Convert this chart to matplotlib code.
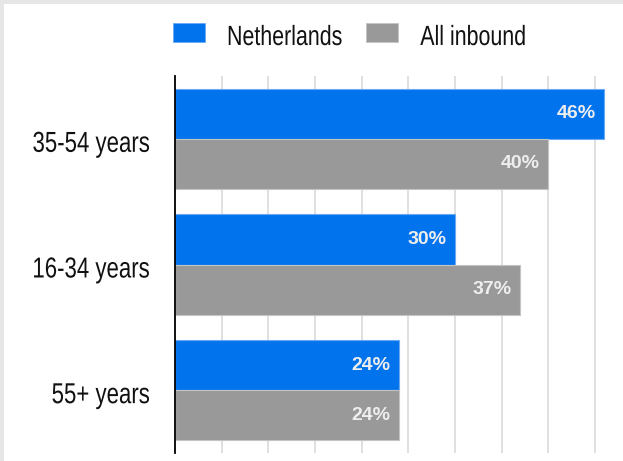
import matplotlib
matplotlib.use("Agg")
import matplotlib.pyplot as plt
from matplotlib.patches import Rectangle, Patch
from matplotlib.patheffects import AbstractPathEffect
from matplotlib.transforms import Affine2D, ScaledTranslation
from matplotlib.legend_handler import HandlerPatch

categories = ["35-54 years", "16-34 years", "55+ years"]
netherlands = [46, 30, 24]
all_inbound = [40, 37, 24]
series_names = ["Netherlands", "All inbound"]

BLUE = "#0073ed"
GRAY = "#999999"
FAMILY = ["Liberation Sans", "DejaVu Sans"]


class VStretch(AbstractPathEffect):
    """Stretch glyphs vertically from the baseline (text stays real text)."""
    def __init__(self, sy):
        super().__init__()
        self.sy = sy

    def draw_path(self, renderer, gc, tpath, affine, rgbFace=None):
        renderer.draw_path(gc, tpath, Affine2D().scale(1, self.sy) + affine, rgbFace)


STRETCH = [VStretch(1.3)]

W, H = 623, 461
fig = plt.figure(figsize=(W / 100, H / 100), dpi=100)
fig.patch.set_facecolor("white")

# light frame bands (top and left)
fig.patches.append(Rectangle((0, 1 - 4 / H), 1, 4 / H, transform=fig.transFigure,
                             facecolor="#e6e6e6", edgecolor="none", zorder=0))
fig.patches.append(Rectangle((0, 0), 3.5 / W, 1, transform=fig.transFigure,
                             facecolor="#e6e6e6", edgecolor="none", zorder=0))

left, right = 175 / W, 607 / W
bottom, top = 1 - 453 / H, 1 - 76 / H
ax = fig.add_axes([left, bottom, right - left, top - bottom])
ax.set_facecolor("white")

ys = list(range(len(categories)))
h = 0.4
b1 = ax.barh([y - h / 2 for y in ys], netherlands, height=h, color=BLUE,
             edgecolor="#6aaaf5", linewidth=0.8, zorder=3)
b2 = ax.barh([y + h / 2 for y in ys], all_inbound, height=h, color=GRAY,
             edgecolor="#c4c4c4", linewidth=0.8, zorder=3)

for bars, vals in ((b1, netherlands), (b2, all_inbound)):
    for bar, v in zip(bars, vals):
        ax.annotate(f"{v}%", xy=(v, bar.get_y() + bar.get_height() / 2),
                    xytext=(-6, 0), textcoords="offset points",
                    ha="right", va="center", color="#eeeeee",
                    fontsize=14, fontweight="bold", family=FAMILY,
                    zorder=4)

ax.set_xlim(0, 46.3)
ax.set_ylim(len(categories) - 0.5, -0.5)
ax.set_xticks(range(0, 50, 5))
ax.set_xticklabels([])
ax.tick_params(axis="x", length=0)
ax.grid(axis="x", color="#dddddd", linewidth=1.3, zorder=0)
ax.set_axisbelow(True)

ax.set_yticks(ys)
ax.set_yticklabels([])
ax.tick_params(axis="y", length=0)

# category labels: right edge 25 px left of axis, baseline 13 px below group center
lab_tf = ax.get_yaxis_transform() + ScaledTranslation(-25 / 100, -13 / 100, fig.dpi_scale_trans)
for y, cat in zip(ys, categories):
    ax.text(0, y, cat, transform=lab_tf, ha="right", va="baseline",
            family=FAMILY, fontsize=16, color="#111111", path_effects=STRETCH)

for s in ("top", "right", "bottom"):
    ax.spines[s].set_visible(False)
ax.spines["left"].set_color("black")
ax.spines["left"].set_linewidth(1.3)
ax.spines["left"].set_zorder(5)

LEG_SIZE = 15.4
leg_px = LEG_SIZE / 0.72


def shifted_rect(legend, orig_handle, xdescent, ydescent, width, height, fontsize):
    return Rectangle((-xdescent, -ydescent + 3.5), width, height)


handles = [Patch(facecolor=BLUE, edgecolor="#6aaaf5", linewidth=0.6),
           Patch(facecolor=GRAY, edgecolor="#c4c4c4", linewidth=0.6)]


def make_legend(anchor_y):
    lg = fig.legend(handles, series_names, loc="center left",
                    bbox_to_anchor=(173 / W, anchor_y), ncol=2, frameon=False,
                    prop={"family": FAMILY, "size": LEG_SIZE},
                    handlelength=32 / leg_px, handleheight=21 / leg_px,
                    handletextpad=22 / leg_px, columnspacing=24 / leg_px,
                    borderpad=0, borderaxespad=0,
                    handler_map={Patch: HandlerPatch(patch_func=shifted_rect)})
    for t in lg.get_texts():
        t.set_color("#111111")
        t.set_path_effects(STRETCH)
    return lg


anchor = 1 - 36 / H
leg = make_legend(anchor)
# align legend text baseline to 45 px from the top
fig.canvas.draw()
renderer = fig.canvas.get_renderer()
t0 = leg.get_texts()[0]
bb = t0.get_window_extent(renderer)
_, _, d = renderer.get_text_width_height_descent("lp", t0.get_fontproperties(), ismath=False)
baseline = bb.y0 + d
target = H - 45
leg.remove()
leg = make_legend(anchor + (target - baseline) / H)

fig.savefig("out.png", dpi=100, facecolor="white")
